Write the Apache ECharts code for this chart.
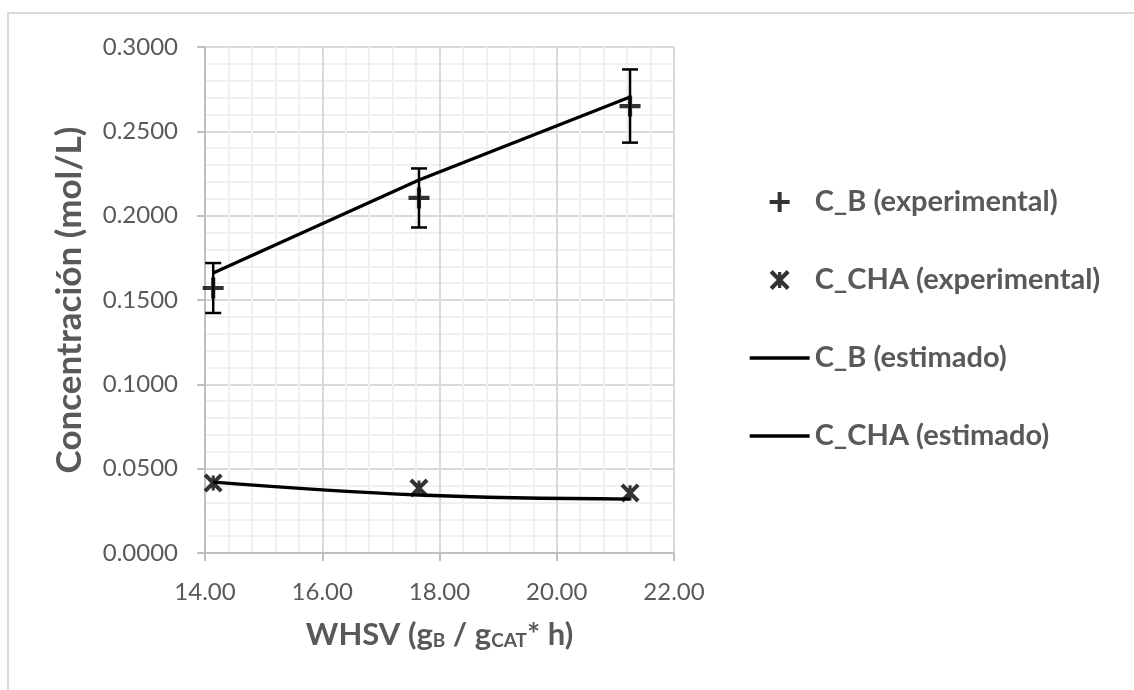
<!DOCTYPE html>
<html>
<head>
<meta charset="utf-8">
<script src="https://cdn.jsdelivr.net/npm/echarts@6/dist/echarts.min.js"></script>
<style>
  html, body { margin: 0; padding: 0; background: #fff; }
  #chart { width: 1134px; height: 690px; }
</style>
</head>
<body>
<div id="chart"></div>
<script>
// WHSV (x) para cada punto experimental
var whsv = [14.14, 17.65, 21.25];
// C_B experimental y su error
var cbExp = [0.1571, 0.2105, 0.2650];
var cbErr = [0.0148, 0.0175, 0.0217];
// C_CHA experimental
var chaExp = [0.0415, 0.0385, 0.0356];
// valores estimados por el modelo
var cbEst = [0.1660, 0.2211, 0.2704];
var chaEst = [0.0420, 0.0344, 0.0320];

var textColor = '#595959';
var font = 'Lato, "Open Sans", sans-serif';

function pairs(xs, ys) {
    return xs.map(function (x, i) { return [x, ys[i]]; });
}

var errData = whsv.map(function (x, i) {
    return [x, cbExp[i] - cbErr[i], cbExp[i] + cbErr[i]];
});

// marcadores rellenos (cruz y asterisco tipo Excel)
var plusPath = 'path://M40,0 L60,0 L60,40 L100,40 L100,60 L60,60 L60,100 L40,100 L40,60 L0,60 L0,40 L40,40 Z';
var starPath = 'path://M0,15 L15,0 L100,85 L85,100 Z M85,0 L100,15 L15,100 L0,85 Z M42,10 L58,10 L58,90 L42,90 Z';

var myChart = echarts.init(document.getElementById('chart'));
var option = {
    backgroundColor: '#fff',
    animation: false,
    graphic: [{
        type: 'rect',
        shape: { x: 8, y: 13, width: 1140, height: 700 },
        style: { fill: 'none', stroke: '#d9d9d9', lineWidth: 2 },
        silent: true
    }],
    grid: { left: 205, right: 460, top: 47, bottom: 137 },
    legend: {
        orient: 'vertical',
        left: 743,
        top: 182,
        itemWidth: 60,
        itemHeight: 20,
        itemGap: 48,
        lineStyle: { width: 3.3 },
        textStyle: { color: textColor, fontSize: 29, lineHeight: 30, fontWeight: 'bold', fontFamily: font },
        data: ['C_B (experimental)', 'C_CHA (experimental)', 'C_B (estimado)', 'C_CHA (estimado)']
    },
    xAxis: {
        type: 'value',
        min: 14, max: 22, interval: 2,
        name: 'WHSV (g{s|B} / g{s|CAT}* h)',
        nameLocation: 'middle',
        nameGap: 66,
        nameMoveOverlap: false,
        nameTextStyle: {
            color: textColor, fontSize: 31, fontWeight: 'bold', fontFamily: font,
            rich: { s: { fontSize: 19, fontWeight: 'bold', color: textColor, fontFamily: font, verticalAlign: 'bottom', padding: [8, 0, 0, 0] } }
        },
        axisLine: { lineStyle: { color: '#bfbfbf', width: 2 } },
        axisTick: { show: true, length: 8, lineStyle: { color: '#bfbfbf', width: 2 } },
        axisLabel: { color: textColor, fontSize: 24, fontFamily: font, margin: 27,
            formatter: function (v) { return v.toFixed(2); } },
        splitLine: { lineStyle: { color: '#d9d9d9', width: 2 } },
        minorTick: { show: false, splitNumber: 5 },
        minorSplitLine: { show: true, lineStyle: { color: '#f0f0f0', width: 2 } }
    },
    yAxis: {
        type: 'value',
        min: 0, max: 0.3, interval: 0.05,
        name: 'Concentración (mol/L)',
        nameLocation: 'middle',
        nameGap: 118,
        nameMoveOverlap: false,
        nameTextStyle: { color: textColor, fontSize: 35, fontWeight: 'bold', fontFamily: font },
        axisLine: { show: true, lineStyle: { color: '#bfbfbf', width: 2 } },
        axisTick: { show: true, length: 8, lineStyle: { color: '#bfbfbf', width: 2 } },
        axisLabel: { color: textColor, fontSize: 24, fontFamily: font, margin: 27,
            formatter: function (v) { return v.toFixed(4); } },
        splitLine: { lineStyle: { color: '#d9d9d9', width: 2 } },
        minorTick: { show: false, splitNumber: 5 },
        minorSplitLine: { show: true, lineStyle: { color: '#f0f0f0', width: 2 } }
    },
    series: [
        {
            name: 'C_B (experimental)',
            type: 'scatter',
            data: pairs(whsv, cbExp),
            symbol: plusPath,
            symbolSize: 21,
            symbolKeepAspect: true,
            itemStyle: { color: '#000', borderWidth: 0 },
            z: 4
        },
        {
            name: 'C_CHA (experimental)',
            type: 'scatter',
            data: pairs(whsv, chaExp),
            symbol: starPath,
            symbolSize: 19,
            symbolKeepAspect: true,
            itemStyle: { color: '#000', borderWidth: 0 },
            z: 4
        },
        {
            name: 'C_B (estimado)',
            type: 'line',
            data: pairs(whsv, cbEst),
            symbol: 'circle',
            showSymbol: false,
            lineStyle: { color: '#000', width: 3.3 },
            itemStyle: { color: 'transparent', borderColor: 'transparent', borderWidth: 0 },
            z: 3
        },
        {
            name: 'C_CHA (estimado)',
            type: 'line',
            data: pairs(whsv, chaEst),
            symbol: 'circle',
            showSymbol: false,
            smooth: 0.4,
            lineStyle: { color: '#000', width: 3.3 },
            itemStyle: { color: 'transparent', borderColor: 'transparent', borderWidth: 0 },
            z: 3
        },
        {
            name: 'error',
            type: 'custom',
            data: errData,
            z: 5,
            renderItem: function (params, api) {
                var x = api.value(0);
                var lo = api.coord([x, api.value(1)]);
                var hi = api.coord([x, api.value(2)]);
                var w = 8;
                var st = { stroke: '#000', lineWidth: 2.5 };
                return {
                    type: 'group',
                    children: [
                        { type: 'line', shape: { x1: lo[0], y1: lo[1], x2: hi[0], y2: hi[1] }, style: st },
                        { type: 'line', shape: { x1: lo[0] - w, y1: lo[1], x2: lo[0] + w, y2: lo[1] }, style: st },
                        { type: 'line', shape: { x1: hi[0] - w, y1: hi[1], x2: hi[0] + w, y2: hi[1] }, style: st }
                    ]
                };
            }
        }
    ]
};
myChart.setOption(option);
</script>
</body>
</html>
